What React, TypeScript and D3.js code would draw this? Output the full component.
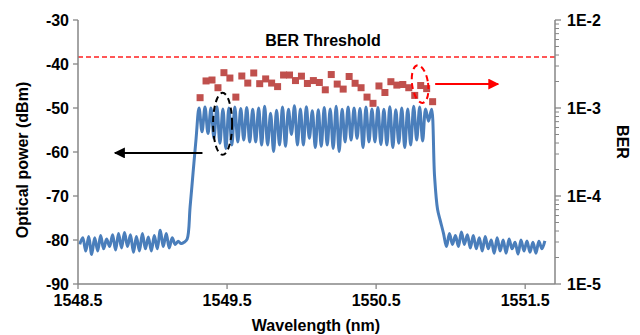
import React from "react";
import * as d3 from "d3";

// OSA trace, sampled every 0.02 nm starting at 1548.512 nm
const wlStart = 1548.512;
const wlStep = 0.02;
const powerLowSide = [
  -81, -79.5, -82.5, -79.2, -83.3, -79.5, -82.5, -79, -82, -79.8, -81.5, -78.8,
  -82.3, -78.5, -81.8, -78.3, -81.5, -78.8, -82.8, -79.2, -82.5, -78.5, -82,
  -79.3, -82.5, -79, -82, -77.8, -81.5, -78.5, -81.8, -79.5, -81, -80.3, -80.8,
  -80.5, -79.8, -72.5, -64.7, -57,
];
const powerComb = [
  -50, -55.4, -49.8, -55.8, -50, -56.9, -49.7, -58, -50.2, -59.2, -50, -58.4,
  -49.8, -57.7, -50.1, -57.3, -49.9, -57.7, -50.3, -57.7, -50, -58.4, -49.6,
  -58.4, -51.2, -59.9, -50.5, -58.4, -49.8, -58.7, -50.3, -56, -49.5, -58.4,
  -50.2, -58.4, -49.7, -56.9, -50.6, -59, -50.4, -58.7, -49.9, -58.4, -50.2,
  -59.2, -49.6, -59.9, -50.3, -57.7, -49.8, -57.3, -50, -56.9, -50.1, -59,
  -49.8, -57.7, -50.2, -57.7, -49.9, -58.3, -50.3, -58.4, -49.7, -59, -50.4,
  -58, -50, -59, -50.2, -58.4, -49.6, -57.3, -49.8, -57.5, -50.2, -53, -50.3,
];
const powerHighSide = [
  -65.5, -73, -75.8, -78.5, -81.5, -78.5, -81, -79, -81.5, -78.2, -81, -78.8,
  -81.8, -79, -82, -79.5, -82.5, -79.2, -82, -80, -83, -79.5, -82.5, -80, -83,
  -79.8, -82, -80.5, -83.2, -80, -82.5, -80.2, -82.8, -80.5, -83, -80.3, -82,
  -80.2,
];

// BER per channel, channels every 0.04 nm from 1549.319 nm
const berStart = 1549.319;
const berStep = 0.04;
const berValues = [
  1.31e-3, 2.03e-3, 2.08e-3, 1.7e-3, 2.52e-3, 2.19e-3, 1.33e-3, 2.31e-3,
  1.92e-3, 2.5e-3, 1.89e-3, 2.14e-3, 1.92e-3, 1.75e-3, 2.37e-3, 2.37e-3,
  2.05e-3, 2.3e-3, 1.9e-3, 2.05e-3, 1.95e-3, 1.61e-3, 2.4e-3, 1.87e-3,
  1.64e-3, 2.28e-3, 1.91e-3, 1.7e-3, 1.33e-3, 1.13e-3, 1.78e-3, 1.5e-3,
  1.99e-3, 1.82e-3, 1.85e-3, 1.7e-3, 1.39e-3, 1.8e-3, 1.66e-3, 1.18e-3,
];
const berThreshold = 3.8e-3;

const xTicks = [1548.5, 1549.5, 1550.5, 1551.5];
const powerTicks = [-90, -80, -70, -60, -50, -40, -30];
const berTicks = [1e-5, 1e-4, 1e-3, 1e-2];

const width = 640;
const height = 335;
const margin = { top: 20, right: 85, bottom: 51, left: 78 };
const plotRight = width - margin.right;
const plotBottom = height - margin.bottom;

const font = "'Liberation Sans', Arial, sans-serif";
const axisColor = "#868686";

export default function App() {
  const x = d3.scaleLinear().domain([1548.5, 1551.7]).range([margin.left, plotRight]);
  const yPow = d3.scaleLinear().domain([-90, -30]).range([plotBottom, margin.top]);
  const yBer = d3.scaleLog().domain([1e-5, 1e-2]).range([plotBottom, margin.top]);

  const power = powerLowSide.concat(powerComb, powerHighSide);
  const trace = power.map((p, i) => [wlStart + i * wlStep, p] as [number, number]);
  const line = d3
    .line<[number, number]>()
    .x((d) => x(d[0]))
    .y((d) => yPow(d[1]))
    .curve(d3.curveCatmullRom.alpha(0.5));

  const berMinor: number[] = [];
  [1e-5, 1e-4, 1e-3].forEach((dec) => {
    for (let m = 2; m <= 9; m++) berMinor.push(dec * m);
  });

  const sq = 7;

  // annotation anchors in data units
  const blackArrowY = yPow(-60.2);
  const redArrowY = yBer(1.87e-3);

  return (
    <svg
      width={width}
      height={height}
      style={{ position: "absolute", left: 0, top: 0, background: "#fff" }}
      fontFamily={font}
      fontWeight="bold"
    >
      <defs>
        <marker id="headBlack" viewBox="0 0 10 10" refX="9" refY="5" markerWidth="5.5" markerHeight="5.5" orient="auto">
          <path d="M0,0 L10,5 L0,10 Z" fill="#000" />
        </marker>
        <marker id="headRed" viewBox="0 0 10 10" refX="9" refY="5" markerWidth="5.5" markerHeight="5.5" orient="auto">
          <path d="M0,0 L10,5 L0,10 Z" fill="#ff0000" />
        </marker>
      </defs>

      {/* BER threshold */}
      <line
        x1={margin.left}
        x2={plotRight}
        y1={yBer(berThreshold)}
        y2={yBer(berThreshold)}
        stroke="#ff2020"
        strokeWidth={1.3}
        strokeDasharray="5,3"
      />
      <text x={323} y={46} textAnchor="middle" fontSize={16}>
        BER Threshold
      </text>

      {/* spectrum */}
      <path d={line(trace) || ""} fill="none" stroke="#4A7EBB" strokeWidth={3} strokeLinejoin="round" />

      {/* BER points */}
      {berValues.map((b, i) => (
        <rect
          key={i}
          x={x(berStart + i * berStep) - sq / 2}
          y={yBer(b) - sq / 2}
          width={sq}
          height={sq}
          fill="#C0504D"
        />
      ))}

      {/* annotations */}
      <ellipse
        cx={x(1549.47)}
        cy={yPow(-53.6)}
        rx={9.5}
        ry={31}
        fill="none"
        stroke="#000"
        strokeWidth={2}
        strokeDasharray="6,4"
      />
      <line
        x1={x(1549.335)}
        x2={x(1548.748)}
        y1={blackArrowY}
        y2={blackArrowY}
        stroke="#000"
        strokeWidth={2}
        markerEnd="url(#headBlack)"
      />
      <ellipse
        cx={x(1550.795)}
        cy={redArrowY}
        rx={8}
        ry={19}
        fill="none"
        stroke="#ff0000"
        strokeWidth={2}
        strokeDasharray="6,4"
        transform={`rotate(-8, ${x(1550.795)}, ${redArrowY})`}
      />
      <line
        x1={x(1550.896)}
        x2={x(1551.319)}
        y1={redArrowY}
        y2={redArrowY}
        stroke="#ff0000"
        strokeWidth={2}
        markerEnd="url(#headRed)"
      />

      {/* left axis */}
      <line x1={margin.left} x2={margin.left} y1={margin.top} y2={plotBottom} stroke={axisColor} strokeWidth={1.5} />
      {powerTicks.map((t) => (
        <g key={t}>
          <line x1={margin.left - 5} x2={margin.left} y1={yPow(t)} y2={yPow(t)} stroke={axisColor} strokeWidth={1.3} />
          <text x={margin.left - 9} y={yPow(t)} dy="0.36em" textAnchor="end" fontSize={16}>
            {t}
          </text>
        </g>
      ))}

      {/* right axis */}
      <line x1={plotRight} x2={plotRight} y1={margin.top} y2={plotBottom} stroke={axisColor} strokeWidth={1.5} />
      {berMinor.map((t) => (
        <line key={t} x1={plotRight} x2={plotRight + 4} y1={yBer(t)} y2={yBer(t)} stroke={axisColor} strokeWidth={1} />
      ))}
      {berTicks.map((t) => (
        <g key={t}>
          <line x1={plotRight} x2={plotRight + 6} y1={yBer(t)} y2={yBer(t)} stroke={axisColor} strokeWidth={1.3} />
          <text x={plotRight + 12} y={yBer(t)} dy="0.36em" textAnchor="start" fontSize={16}>
            {`1E${Math.round(Math.log10(t))}`}
          </text>
        </g>
      ))}

      {/* bottom axis */}
      <line x1={margin.left} x2={plotRight} y1={plotBottom} y2={plotBottom} stroke={axisColor} strokeWidth={1.5} />
      {xTicks.map((t) => (
        <g key={t}>
          <line x1={x(t)} x2={x(t)} y1={plotBottom} y2={plotBottom + 5} stroke={axisColor} strokeWidth={1.3} />
          <text x={x(t)} y={plotBottom + 22} textAnchor="middle" fontSize={16}>
            {t.toFixed(1)}
          </text>
        </g>
      ))}

      {/* axis titles */}
      <text x={316} y={331} textAnchor="middle" fontSize={16}>
        Wavelength (nm)
      </text>
      <text transform="translate(28, 160) rotate(-90)" textAnchor="middle" fontSize={16}>
        Optical power (dBm)
      </text>
      <text transform="translate(617, 142) rotate(90)" textAnchor="middle" fontSize={16}>
        BER
      </text>
    </svg>
  );
}
